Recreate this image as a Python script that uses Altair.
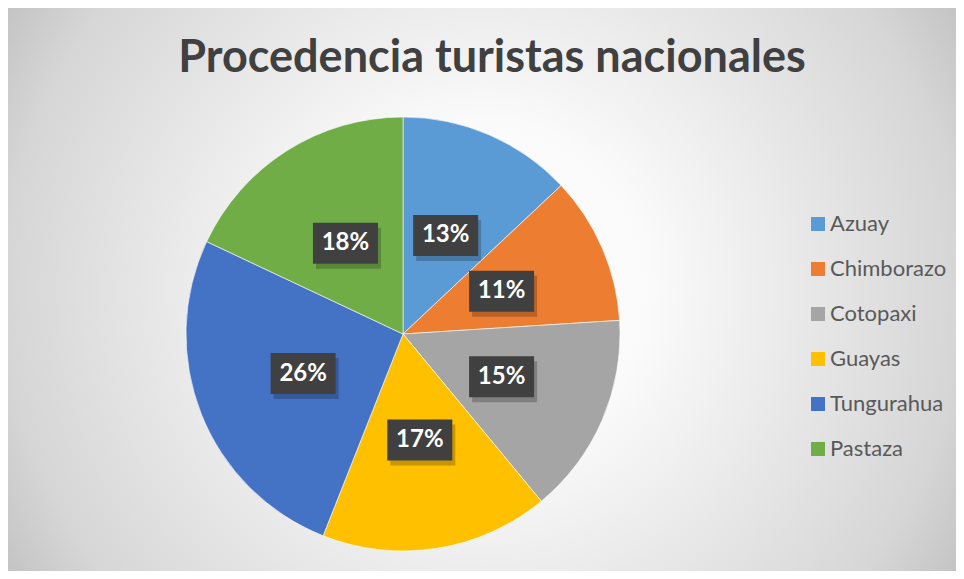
import altair as alt
import pandas as pd
import numpy as np

# ---- data ----
title_text = "Procedencia turistas nacionales"
categories = ["Azuay", "Chimborazo", "Cotopaxi", "Guayas", "Tungurahua", "Pastaza"]
values = [13, 11, 15, 17, 26, 18]
colors = ["#5B9BD5", "#ED7D31", "#A5A5A5", "#FFC000", "#4472C4", "#70AD47"]

# ---- layout ----
W, H = 948, 563
CX, CY, R = 395, 326, 217
LABEL_R = 0.495

total = sum(values)
cum = np.cumsum([0] + values[:-1])
mid = (cum + np.array(values) / 2) / total * 2 * np.pi
df = pd.DataFrame({
    "cat": categories,
    "val": values,
    "idx": list(range(len(categories))),
    "pct": [f"{round(v / total * 100)}%" for v in values],
    "lx": LABEL_R * np.sin(mid),
    "ly": LABEL_R * np.cos(mid),
})

color_scale = alt.Scale(domain=categories, range=colors)
xs = alt.Scale(domain=[-1, 1], range=[CX - R, CX + R])
ys = alt.Scale(domain=[-1, 1], range=[CY + R, CY - R])

side = 1120
bg = alt.Chart(pd.DataFrame({"a": [0]})).mark_rect(
    clip=True,
    fill=alt.Gradient(
        gradient="radial",
        x1=0.5, y1=0.5, r1=0, x2=0.5, y2=0.5, r2=0.5,
        stops=[
            alt.GradientStop(offset=0, color="#ffffff"),
            alt.GradientStop(offset=0.3, color="#fafafa"),
            alt.GradientStop(offset=0.5, color="#ededed"),
            alt.GradientStop(offset=0.85, color="#d6d6d6"),
            alt.GradientStop(offset=1, color="#c2c2c2"),
        ],
    ),
).encode(
    x=alt.value(475 - side / 2), x2=alt.value(475 + side / 2),
    y=alt.value(282 - side / 2), y2=alt.value(282 + side / 2),
)

pie = alt.Chart(df).mark_arc(outerRadius=R, stroke="#ffffff", strokeWidth=0.6).encode(
    theta=alt.Theta("val:Q", stack=True),
    order=alt.Order("idx:Q"),
    color=alt.Color(
        "cat:N", scale=color_scale, sort=categories,
        legend=alt.Legend(
            title=None, orient="none", legendX=799, legendY=205,
            symbolType="square", symbolSize=196, symbolStrokeWidth=0,
            labelFontSize=22, labelFont="Lato", labelColor="#595959",
            labelOffset=1, rowPadding=23, padding=0,
        ),
    ),
    x=alt.value(CX), y=alt.value(CY),
)

shadow = alt.Chart(df).mark_rect(
    width=65, height=41, color="#000000", opacity=0.22, xOffset=3, yOffset=5
).encode(
    x=alt.X("lx:Q", scale=xs, axis=None),
    y=alt.Y("ly:Q", scale=ys, axis=None),
)

boxes = alt.Chart(df).mark_rect(width=65, height=41, color="#404040").encode(
    x=alt.X("lx:Q", scale=xs, axis=None),
    y=alt.Y("ly:Q", scale=ys, axis=None),
)

labels = alt.Chart(df).mark_text(
    font="Lato", fontWeight="bold", fontSize=24, color="#ffffff", baseline="middle"
).encode(
    x=alt.X("lx:Q", scale=xs, axis=None),
    y=alt.Y("ly:Q", scale=ys, axis=None),
    text="pct:N",
)

title = alt.Chart(pd.DataFrame({"t": [title_text]})).mark_text(
    font="Lato", fontWeight="bold", fontSize=45, color="#404040",
    align="center", baseline="alphabetic",
).encode(x=alt.value(484), y=alt.value(64), text="t:N")

chart = alt.layer(bg, pie, shadow, boxes, labels, title).properties(
    width=W, height=H
).configure(padding=0).configure_view(strokeWidth=0)

chart.save("out.html", embed_options={"renderer": "svg", "actions": False})
